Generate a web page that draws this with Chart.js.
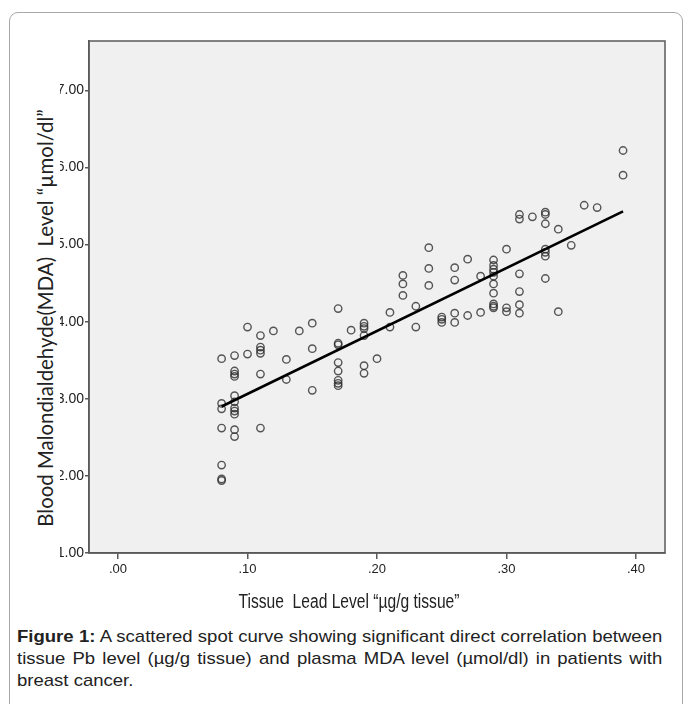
<!DOCTYPE html>
<html>
<head>
<meta charset="utf-8">
<script src="https://cdn.jsdelivr.net/npm/chart.js@4.4.1/dist/chart.umd.min.js"></script>
<style>
  body { margin: 0; background: #fff; width: 683px; height: 704px; overflow: hidden; position: relative; }
  #frame { position: absolute; left: 9px; top: 12px; width: 672px; height: 720px; border: 1px solid #a8a8a8; border-radius: 9px; }
  #chartBox { position: absolute; left: 60px; top: 0; width: 623px; height: 620px; }
  #yTitle { position: absolute; left: 45px; top: 318px; transform: translate(-50%, -50%) rotate(-90deg); white-space: nowrap;
            font-family: Lato, "Open Sans", sans-serif; font-size: 20.4px; line-height: 22px; color: #222; }
  #caption { position: absolute; left: 17px; top: 626px; width: 592px; transform: scaleX(1.09); transform-origin: 0 0;
             font-family: "Liberation Sans", Arial, sans-serif; font-size: 17px; line-height: 22px; color: #222; }
  #caption .line { text-align: justify; text-align-last: justify; white-space: nowrap; }
  #caption .last { text-align: left; }
</style>
</head>
<body>
<div id="frame"></div>
<div id="yTitle">Blood Malondialdehyde(MDA)&nbsp; Level “µmol/dl”</div>
<div id="chartBox"><canvas id="leadChart" width="623" height="620"></canvas></div>
<div id="caption">
  <div class="line"><b>Figure 1:</b> A scattered spot curve showing significant direct correlation between</div>
  <div class="line">tissue Pb level (µg/g tissue) and plasma MDA level (µmol/dl) in patients with</div>
  <div class="last">breast cancer.</div>
</div>
<script>
// tissue lead level (µg/g tissue) for each patient
var leadLevel = [
  .08, .08, .08, .08, .08, .08, .08,
  .09, .09, .09, .09, .09, .09, .09, .09, .09, .09, .09,
  .10, .10,
  .11, .11, .11, .11, .11, .11,
  .12,
  .13, .13,
  .14,
  .15, .15, .15,
  .17, .17, .17, .17, .17, .17, .17, .17,
  .18,
  .19, .19, .19, .19, .19, .19,
  .20,
  .21, .21,
  .22, .22, .22,
  .23, .23,
  .24, .24, .24,
  .25, .25, .25,
  .26, .26, .26, .26,
  .27, .27,
  .28, .28,
  .29, .29, .29, .29, .29, .29, .29, .29, .29, .29,
  .30, .30, .30,
  .31, .31, .31, .31, .31, .31,
  .32,
  .33, .33, .33, .33, .33, .33, .33,
  .34, .34,
  .35,
  .36,
  .37,
  .39, .39
];

// blood MDA level (µmol/dl), same order
var mdaLevel = [
  3.52, 2.94, 2.87, 2.62, 2.14, 1.96, 1.94,
  3.56, 3.36, 3.32, 3.29, 3.04, 2.96, 2.88, 2.84, 2.80, 2.60, 2.51,
  3.93, 3.58,
  3.82, 3.67, 3.63, 3.59, 3.32, 2.62,
  3.88,
  3.51, 3.25,
  3.88,
  3.98, 3.65, 3.11,
  4.17, 3.72, 3.70, 3.47, 3.36, 3.24, 3.20, 3.17,
  3.89,
  3.98, 3.94, 3.91, 3.82, 3.43, 3.33,
  3.52,
  4.12, 3.93,
  4.60, 4.49, 4.34,
  4.20, 3.93,
  4.96, 4.69, 4.47,
  4.06, 4.03, 3.99,
  4.70, 4.54, 4.11, 3.99,
  4.81, 4.08,
  4.59, 4.12,
  4.80, 4.73, 4.68, 4.64, 4.59, 4.49, 4.37, 4.23, 4.20, 4.18,
  4.94, 4.18, 4.13,
  5.39, 5.33, 4.62, 4.39, 4.22, 4.11,
  5.36,
  5.42, 5.39, 5.27, 4.94, 4.90, 4.85, 4.56,
  5.20, 4.13,
  4.99,
  5.51,
  5.48,
  6.22, 5.90
];

// fitted regression line end points
var fitX = [.08, .39];
var fitY = [2.90, 5.43];

var xTicks = [0, .10, .20, .30, .40];
var yTicks = [1, 2, 3, 4, 5, 6, 7];

var xTitle = 'Tissue  Lead Level \u201cµg/g tissue\u201d';

var points = leadLevel.map(function(x, i) { return {x: x, y: mdaLevel[i]}; });
var fitLine = fitX.map(function(x, i) { return {x: x, y: fitY[i]}; });

// grey plot panel, closed box and the x title (canvas starts at page x=60)
var spssFrame = {
  id: 'spssFrame',
  beforeDraw: function(chart) {
    var a = chart.chartArea, ctx = chart.ctx;
    ctx.save();
    ctx.fillStyle = '#f0f0f0';
    ctx.fillRect(a.left, a.top, a.right - a.left, a.bottom - a.top);
    ctx.restore();
  },
  afterDraw: function(chart) {
    var a = chart.chartArea, ctx = chart.ctx;
    ctx.save();
    ctx.strokeStyle = '#5a5a5a';
    ctx.lineWidth = 1.5;
    ctx.strokeRect(a.left, a.top, a.right - a.left, a.bottom - a.top);
    ctx.restore();

    ctx.save();
    ctx.fillStyle = '#222';
    ctx.textAlign = 'center';
    ctx.textBaseline = 'middle';
    ctx.font = '20px "Liberation Sans Narrow", "Liberation Sans", sans-serif';
    ctx.translate(349 - 60, 602);
    ctx.scale(0.78, 1);
    ctx.fillText(xTitle, 0, 0);
    ctx.restore();
  }
};

Chart.defaults.color = '#222';
Chart.defaults.font.family = '"Liberation Sans Narrow", "Liberation Sans", sans-serif';

new Chart("leadChart", {
  type: "scatter",
  data: {
    datasets: [{
      type: 'line',
      data: fitLine,
      borderColor: '#000',
      borderWidth: 2.6,
      pointRadius: 0,
      fill: false
    }, {
      data: points,
      pointStyle: 'circle',
      pointRadius: 3.7,
      pointBorderWidth: 1.4,
      borderColor: 'rgba(45,45,45,0.8)',
      backgroundColor: 'rgba(0,0,0,0)'
    }]
  },
  options: {
    responsive: false,
    animation: false,
    devicePixelRatio: 1,
    layout: {padding: {top: 41, right: 18, left: 0, bottom: 0}},
    plugins: {legend: {display: false}, tooltip: {enabled: false}},
    scales: {
      x: {
        type: 'linear',
        min: -0.0224,
        max: 0.4224,
        afterBuildTicks: function(s) { s.ticks = xTicks.map(function(v) { return {value: v}; }); },
        afterFit: function(s) { s.height = 67; },
        ticks: {
          padding: 3,
          font: {size: 13},
          callback: function(v) { return v.toFixed(2).replace(/^0/, ''); }
        },
        grid: {drawOnChartArea: false, drawTicks: true, tickLength: 6, color: '#5a5a5a', lineWidth: 1.5},
        border: {color: '#5a5a5a', width: 1.5}
      },
      y: {
        type: 'linear',
        min: 1,
        max: 7.64,
        afterBuildTicks: function(s) { s.ticks = yTicks.map(function(v) { return {value: v}; }); },
        afterFit: function(s) { s.width = 29; },
        ticks: {
          padding: 1,
          font: {size: 14},
          callback: function(v) { return v.toFixed(2); }
        },
        grid: {drawOnChartArea: false, drawTicks: true, tickLength: 4, color: '#5a5a5a', lineWidth: 1.5},
        border: {color: '#5a5a5a', width: 1.5}
      }
    }
  },
  plugins: [spssFrame]
});
</script>
</body>
</html>
